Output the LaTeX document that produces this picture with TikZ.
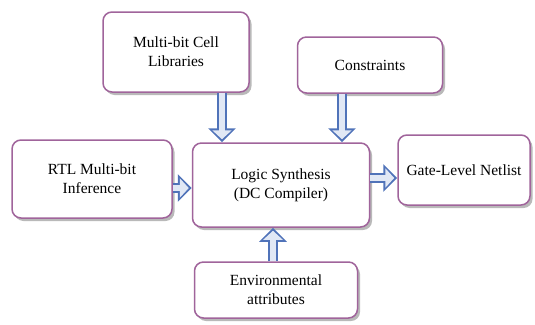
\documentclass[tikz,border=0pt]{standalone}
\usepackage{fontspec}
\setmainfont{Liberation Serif}
\usetikzlibrary{arrows.meta,positioning,shadows,calc}
\definecolor{boxline}{RGB}{160,100,155}
\definecolor{arrowline}{RGB}{80,115,185}
\definecolor{arrowfill}{RGB}{225,232,245}
\tikzset{
  box/.style={draw=boxline, line width=1.5pt, rounded corners=9pt, fill=white,
    align=center, inner sep=0pt, font=\fontsize{15.5}{19}\selectfont,
    drop shadow={opacity=0.55, shadow xshift=2.5pt, shadow yshift=-3pt}},
  bigarrow/.style={draw=arrowline, line width=10pt, -{Triangle[length=14pt,width=27pt]},
    postaction={draw=arrowfill, line width=6pt, shorten >=3pt, -{Triangle[length=9pt,width=19pt]}}}
}
\begin{document}
\begin{tikzpicture}[x=1pt,y=-1pt]
  \useasboundingbox (0,0) rectangle (535,324);
  \node[box, minimum width=146pt, minimum height=80pt] (lib) at (176,52) {Multi-bit Cell\\Libraries};
  \node[box, minimum width=145pt, minimum height=56pt] (cons) at (370,65) {Constraints};
  \node[box, minimum width=160pt, minimum height=78pt] (rtl) at (92,179) {RTL Multi-bit\\Inference};
  \node[box, minimum width=177pt, minimum height=84pt] (syn) at (281,185) {Logic Synthesis\\(DC Compiler)};
  \node[box, minimum width=132pt, minimum height=70pt] (net) at (464,170) {Gate-Level Netlist};
  \node[box, minimum width=163pt, minimum height=56pt] (env) at (276,290) {Environmental\\attributes};
  % block arrows into and out of the synthesis box
  \draw[bigarrow] ([xshift=46pt]lib.south) -- ([xshift=46pt]lib.south |- syn.north);
  \draw[bigarrow] ([xshift=-28pt]cons.south) -- ([xshift=-28pt]cons.south |- syn.north);
  \draw[bigarrow] ([yshift=-9pt]rtl.east) -- ([yshift=-9pt]rtl.east -| syn.west);
  \draw[bigarrow] ([yshift=7pt]syn.east) -- ([yshift=7pt]syn.east -| net.west);
  \draw[bigarrow] ([xshift=-3pt]env.north) -- ([xshift=-3pt]env.north |- syn.south);
\end{tikzpicture}
\end{document}
